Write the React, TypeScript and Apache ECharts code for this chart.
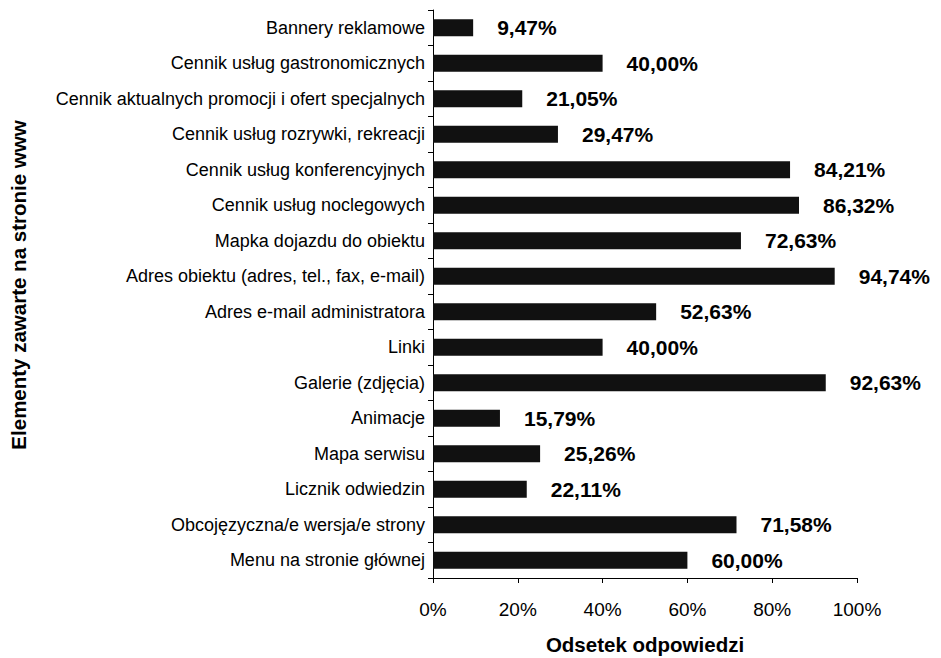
import React, { useEffect, useRef } from "react";
import * as echarts from "echarts";

const categories = [
  "Bannery reklamowe",
  "Cennik usług gastronomicznych",
  "Cennik aktualnych promocji i ofert specjalnych",
  "Cennik usług rozrywki, rekreacji",
  "Cennik usług konferencyjnych",
  "Cennik usług noclegowych",
  "Mapka dojazdu do obiektu",
  "Adres obiektu (adres, tel., fax, e-mail)",
  "Adres e-mail administratora",
  "Linki",
  "Galerie (zdjęcia)",
  "Animacje",
  "Mapa serwisu",
  "Licznik odwiedzin",
  "Obcojęzyczna/e wersja/e strony",
  "Menu na stronie głównej",
];

const values = [
  9.47, 40.0, 21.05, 29.47, 84.21, 86.32, 72.63, 94.74, 52.63, 40.0, 92.63,
  15.79, 25.26, 22.11, 71.58, 60.0,
];

const xTicks = { min: 0, max: 100, interval: 20 };

const FONT = "Liberation Sans, Arial";

export default function App() {
  const ref = useRef<HTMLDivElement>(null);
  useEffect(() => {
    if (!ref.current) return;
    const chart = echarts.init(ref.current, null, { renderer: "svg" });
    chart.setOption({
      animation: false,
      backgroundColor: "#ffffff",
      grid: {
        left: 433,
        right: 84,
        top: 10,
        bottom: 80,
        containLabel: false,
        outerBoundsMode: "none",
      },
      xAxis: {
        type: "value",
        min: xTicks.min,
        max: xTicks.max,
        interval: xTicks.interval,
        name: "Odsetek odpowiedzi",
        nameLocation: "middle",
        nameGap: 56,
        nameTextStyle: {
          fontFamily: FONT,
          fontWeight: "bold",
          fontSize: 20.5,
          color: "#000",
        },
        axisLine: { show: true, lineStyle: { color: "#000", width: 1 } },
        axisTick: { show: true, length: 5, lineStyle: { color: "#000" } },
        axisLabel: {
          formatter: "{value}%",
          margin: 22,
          fontFamily: FONT,
          fontSize: 19,
          color: "#000",
        },
        splitLine: { show: false },
      },
      yAxis: {
        type: "category",
        data: categories,
        inverse: true,
        name: "Elementy zawarte na stronie www",
        nameLocation: "middle",
        nameGap: 404,
        nameRotate: 90,
        nameTextStyle: {
          fontFamily: FONT,
          fontWeight: "bold",
          fontSize: 20.5,
          color: "#000",
          padding: [0, 0, 0, 18],
        },
        axisLine: { show: true, lineStyle: { color: "#000", width: 1 } },
        axisTick: { show: true, length: 5, lineStyle: { color: "#000" } },
        axisLabel: {
          margin: 8,
          fontFamily: FONT,
          fontSize: 18,
          color: "#000",
        },
      },
      series: [
        {
          type: "bar",
          data: values,
          barWidth: 17,
          itemStyle: { color: "#111111" },
          label: {
            show: true,
            position: "right",
            distance: 24,
            formatter: (p: any) => p.value.toFixed(2).replace(".", ",") + "%",
            fontFamily: FONT,
            fontWeight: "bold",
            fontSize: 21,
            color: "#000",
          },
        },
      ],
    });
    return () => chart.dispose();
  }, []);
  return <div ref={ref} style={{ width: 941, height: 658, marginLeft: -8, marginTop: -8 }} />;
}
